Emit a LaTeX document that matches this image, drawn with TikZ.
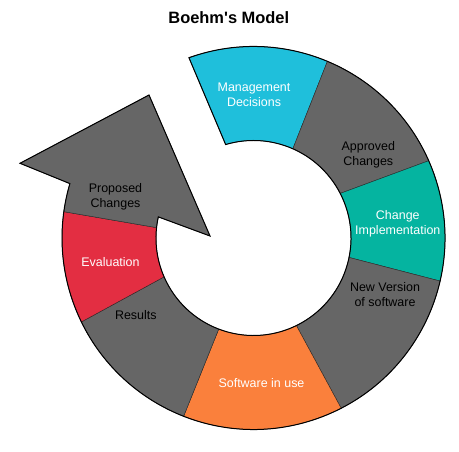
\documentclass[tikz,border=0pt]{standalone}
\usepackage{fontspec}
\setmainfont{Liberation Sans}[Ligatures=TeXOff]
\definecolor{segGrey}{HTML}{666666}
\definecolor{segCyan}{HTML}{1FBFDB}
\definecolor{segTeal}{HTML}{05B4A0}
\definecolor{segOrange}{HTML}{FA803C}
\definecolor{segRed}{HTML}{E32E42}
\newcommand\ringseg[5]{%
  \path[fill=#1, draw=black!85, line width=0.4bp]
    (#2:\Rout) arc[start angle=#2, end angle=#3, radius=\Rout]
    -- (#4:\Rin) arc[start angle=#4, end angle=#5, radius=\Rin] -- cycle;}
\begin{document}
\begin{tikzpicture}[x=1bp,y=1bp,
  lab/.style={font=\fontsize{12.5}{15}\selectfont, align=center, inner sep=0pt},
  labw/.style={lab, text=white},
  labk/.style={lab, text=black}]
\useasboundingbox (0,0) rectangle (459,452);
\def\Rout{191.5bp}
\def\Rin{97.5bp}
\begin{scope}[shift={(253.5,214)}]
  % Management Decisions
  \ringseg{segCyan}{109.7}{67.3}{66.2}{106.6}
  % Approved Changes
  \ringseg{segGrey}{67.3}{23.8}{27.2}{66.2}
  % Change Implementation
  \ringseg{segTeal}{23.8}{-13.0}{-11.5}{27.2}
  % New Version of software
  \ringseg{segGrey}{-13.0}{-62.75}{-63.9}{-11.5}
  % Software in use
  \ringseg{segOrange}{-62.75}{-111.4}{-110.9}{-63.9}
  % Results
  \ringseg{segGrey}{-111.4}{-154.0}{-156.5}{-110.9}
  % Evaluation
  \ringseg{segRed}{206.0}{172.1}{173.9}{203.5}
  % Proposed Changes (arrow)
  \path[fill=segGrey, draw=black!85, line width=0.4bp]
    (172.1:\Rout) arc[start angle=172.1, end angle=163.5, radius=\Rout]
    -- (-233.5,74.7) -- (-104.5,143) -- (-43.5,2)
    -- (167.5:\Rin) arc[start angle=167.5, end angle=173.9, radius=\Rin] -- cycle;
  % overall outline
  \draw[black, line width=1bp, line join=miter]
    (109.7:\Rout) arc[start angle=109.7, end angle=-196.5, radius=\Rout]
    -- (-233.5,74.7) -- (-104.5,143) -- (-43.5,2)
    -- (167.5:\Rin) arc[start angle=167.5, end angle=466.6, radius=\Rin] -- cycle;
\end{scope}
\node[font=\fontsize{16.5}{18}\selectfont\bfseries] (title) at (228.8,434) {Boehm's Model};
\node[labw] (mgmt) at (254,357) {Management\\Decisions};
\node[labk] (appr) at (368.3,297) {Approved\\Changes};
\node[labw] (impl) at (397.8,228) {Change\\Implementation};
\node[labk] (newv) at (385,157) {New Version\\of software};
\node[labw] (soft) at (261.5,68.7) {Software in use};
\node[labk] (res) at (135.8,137) {Results};
\node[labw] (eval) at (110.5,189.7) {Evaluation};
\node[labk] (prop) at (115.5,255.3) {Proposed\\Changes};
\end{tikzpicture}
\end{document}
